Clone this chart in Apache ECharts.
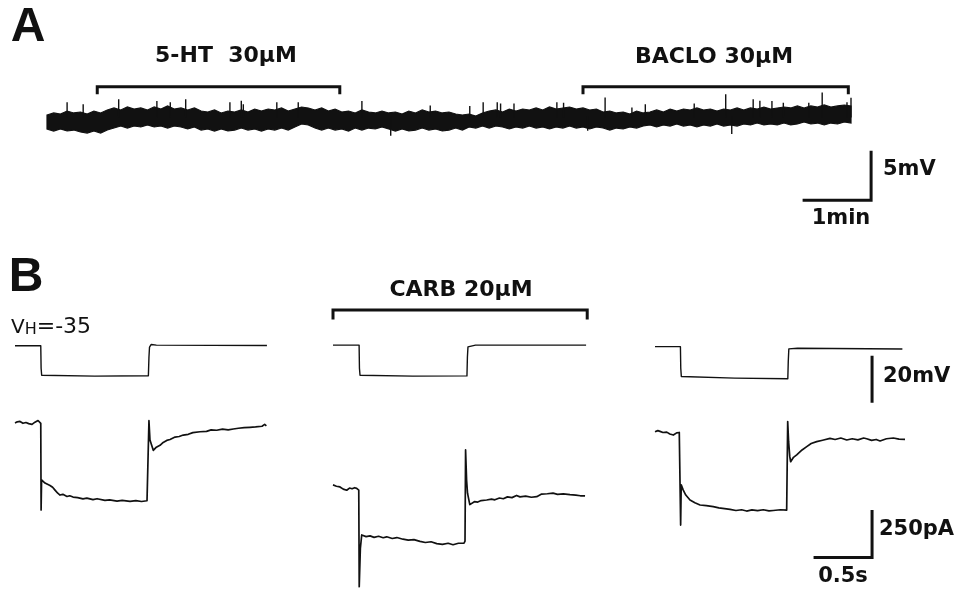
<!DOCTYPE html>
<html>
<head>
<meta charset="utf-8">
<title>5-HT / BACLO / CARB recordings</title>
<script src="https://cdn.jsdelivr.net/npm/echarts@6.0.0/dist/echarts.min.js"></script>
<style>
  html, body { margin: 0; padding: 0; background: #fff; }
  #chart { width: 975px; height: 590px; }
</style>
</head>
<body>
<div id="chart"></div>
<script>
// ---- panel A : slow membrane potential trace, 0.1 min steps (mV relative to rest) ----
const aStep = 0.1;
const aTop = [
  0.19, 0.40, 0.29, 0.60, 0.40, 0.50, 0.29, 0.60, 0.40, 0.71,
  0.92, 0.71, 1.02, 0.81, 0.92, 0.71, 1.02, 0.81, 1.13, 0.81,
  0.92, 0.71, 0.92, 0.60, 0.50, 0.71, 0.40, 0.60, 0.50, 0.71,
  0.50, 0.81, 0.60, 0.81, 0.71, 0.92, 0.60, 0.81, 1.02, 0.92,
  0.71, 0.92, 0.60, 0.81, 0.50, 0.60, 0.40, 0.71, 0.50, 0.40,
  0.60, 0.40, 0.50, 0.29, 0.60, 0.40, 0.71, 0.50, 0.60, 0.40,
  0.50, 0.29, 0.19, 0.29, 0.08, 0.40, 0.60, 0.71, 0.50, 0.81,
  0.60, 0.81, 0.71, 0.92, 0.71, 1.02, 0.81, 0.92, 1.02, 0.81,
  0.92, 0.71, 0.81, 0.50, 0.60, 0.40, 0.50, 0.29, 0.60, 0.40,
  0.50, 0.71, 0.50, 0.81, 0.60, 0.81, 0.71, 0.92, 0.71, 0.81,
  0.60, 0.81, 0.71, 0.92, 0.71, 0.92, 0.81, 1.02, 0.81, 0.92,
  1.02, 0.92, 1.13, 0.92, 1.13, 1.02, 1.23, 1.02, 1.13, 1.23, 1.13
];
const aBottom = [
  -1.27, -1.48, -1.27, -1.48, -1.38, -1.58, -1.69, -1.48, -1.69, -1.38,
  -1.17, -0.96, -1.17, -0.96, -1.06, -0.85, -1.06, -0.96, -1.17, -0.96,
  -1.06, -1.27, -1.06, -1.38, -1.27, -1.48, -1.27, -1.48, -1.38, -1.17,
  -1.38, -1.27, -1.48, -1.27, -1.38, -1.17, -1.38, -1.06, -0.75, -0.85,
  -1.17, -1.38, -1.17, -1.38, -1.27, -1.48, -1.17, -1.38, -1.17, -1.27,
  -1.06, -1.27, -1.48, -1.27, -1.48, -1.38, -1.17, -1.38, -1.27, -1.48,
  -1.38, -1.17, -1.38, -1.06, -1.17, -0.96, -1.17, -0.96, -1.06, -1.27,
  -1.06, -1.17, -0.96, -1.17, -1.06, -1.27, -1.06, -1.17, -0.96, -1.17,
  -1.06, -1.27, -1.06, -1.17, -1.38, -1.17, -1.27, -1.06, -1.17, -0.96,
  -0.85, -1.06, -0.85, -0.96, -0.75, -0.96, -0.85, -1.06, -0.85, -0.96,
  -0.75, -0.96, -0.85, -0.96, -0.75, -0.85, -0.65, -0.85, -0.75, -0.85,
  -0.65, -0.85, -0.75, -0.54, -0.75, -0.65, -0.85, -0.65, -0.75, -0.54, -0.65
];
// brief excursions sticking out of the noise band [min, mV]
const aSpikes = [
  [0.30, 1.44], [0.54, 1.23], [1.07, 1.75], [1.64, 1.57], [1.84, 1.44], [2.07, 1.75],
  [2.73, 1.44], [2.90, 1.60], [2.93, 1.23], [3.43, 1.44], [3.75, 1.44], [4.70, 1.57],
  [5.72, 1.10], [6.31, 1.05], [6.51, 1.44], [6.72, 1.44], [6.77, 1.30], [6.97, 1.30],
  [7.61, 1.44], [7.71, 1.40], [8.33, 1.93], [8.73, 0.90], [8.93, 1.23], [9.66, 1.30],
  [10.13, 2.27], [10.54, 1.75], [10.64, 1.60], [10.82, 1.57], [10.99, 1.40], [11.37, 1.40],
  [11.57, 2.45], [11.94, 1.44], [12.0, 1.90],
  [5.13, -1.90], [10.22, -1.72], [8.07, -1.38]
];
const aDrugs = [
  { name: '5-HT  30µM', from: 0.75, to: 4.37 },
  { name: 'BACLO 30µM', from: 8.0, to: 11.96 }
];

// ---- panel B : voltage steps (mV) and membrane currents (pA), time in s ----
const vSweep1 = [[0, -34.8], [0.226, -34.8], [0.229, -45], [0.234, -48.2], [0.25, -48.7], [0.7, -48.6], [1.17, -48.4], [1.175, -40], [1.18, -35.4], [1.195, -34.2], [1.24, -34.5], [2.21, -34.7]];
const vSweep2 = [[0, -34.5], [0.229, -34.5], [0.232, -45], [0.237, -48.2], [0.25, -48.6], [0.7, -48.6], [1.175, -48.5], [1.179, -40], [1.184, -35.3], [1.2, -34.4], [1.25, -34.5], [2.22, -34.5]];
const vSweep3 = [[0, -35.2], [0.223, -35.2], [0.226, -45], [0.231, -48.8], [0.245, -49.2], [0.7, -49.5], [1.165, -49.8], [1.169, -42], [1.174, -36.2], [1.19, -35.6], [1.25, -35.9], [2.17, -36.3]];

const iSweep1 = [
  [0, -18], [0.02, -12], [0.044, -10], [0.07, -20], [0.096, -16], [0.12, -22], [0.149, -26], [0.175, -14], [0.202, -5], [0.219, 2], [0.226, -20],
  [0.229, -491], [0.233, -328], [0.263, -345], [0.307, -358], [0.33, -368], [0.351, -383], [0.375, -400], [0.395, -410], [0.42, -406], [0.456, -418],
  [0.48, -414], [0.509, -421], [0.55, -424], [0.596, -431], [0.63, -427], [0.684, -435], [0.72, -430], [0.789, -439], [0.83, -436], [0.895, -443],
  [0.94, -439], [1.009, -444], [1.06, -440], [1.11, -445], [1.158, -441], [1.171, -437],
  [1.175, -6], [1.184, -111], [1.213, -167], [1.24, -150], [1.272, -140], [1.3, -124], [1.331, -113], [1.36, -108], [1.404, -95], [1.44, -92],
  [1.476, -84], [1.52, -80], [1.56, -71], [1.623, -66], [1.68, -64], [1.72, -56], [1.769, -58], [1.82, -52], [1.87, -56], [1.915, -51],
  [1.96, -47], [2.01, -44], [2.061, -42], [2.11, -40], [2.167, -36], [2.19, -26], [2.205, -34]
];
const iSweep2 = [
  [0, -355], [0.03, -362], [0.061, -366], [0.09, -378], [0.12, -384], [0.145, -372], [0.167, -376], [0.19, -370], [0.208, -374], [0.226, -383],
  [0.23, -908], [0.24, -700], [0.252, -627], [0.29, -636], [0.325, -632], [0.36, -640], [0.4, -634], [0.44, -642], [0.471, -637], [0.52, -646],
  [0.56, -641], [0.614, -650], [0.66, -655], [0.71, -652], [0.763, -662], [0.81, -668], [0.86, -664], [0.91, -674], [0.96, -678], [1.01, -672],
  [1.053, -680], [1.1, -672], [1.149, -672], [1.158, -660],
  [1.163, -165], [1.172, -330], [1.18, -400], [1.2, -462], [1.216, -452], [1.24, -446], [1.27, -448], [1.3, -440], [1.348, -437], [1.39, -432],
  [1.42, -436], [1.46, -426], [1.494, -430], [1.53, -420], [1.57, -424], [1.61, -412], [1.64, -420], [1.69, -416], [1.74, -422], [1.787, -419],
  [1.83, -405], [1.88, -403], [1.93, -400], [1.97, -406], [2.02, -404], [2.079, -408], [2.13, -410], [2.17, -414], [2.211, -415]
];
const iSweep3 = [
  [0, -66], [0.025, -60], [0.044, -64], [0.07, -70], [0.103, -68], [0.13, -78], [0.161, -84], [0.19, -72], [0.213, -70], [0.222, -78],
  [0.225, -573], [0.23, -355], [0.248, -383], [0.27, -410], [0.307, -437], [0.35, -452], [0.395, -464], [0.45, -468], [0.511, -473], [0.56, -480],
  [0.61, -484], [0.658, -488], [0.71, -494], [0.76, -490], [0.804, -497], [0.85, -491], [0.9, -495], [0.95, -490], [1.0, -496], [1.038, -494],
  [1.1, -490], [1.155, -492], [1.161, -486],
  [1.164, -11], [1.172, -120], [1.182, -200], [1.19, -229], [1.215, -205], [1.243, -192], [1.29, -165], [1.331, -147], [1.37, -130], [1.418, -120],
  [1.47, -112], [1.535, -102], [1.58, -108], [1.63, -100], [1.682, -111], [1.73, -104], [1.78, -110], [1.83, -100], [1.857, -104], [1.9, -113],
  [1.94, -108], [1.974, -116], [2.03, -104], [2.091, -100], [2.14, -106], [2.193, -107]
];
const bDrug = { name: 'CARB 20µM', from: 0, to: 2.23 };

// ---- layout (pixels per unit, so the scale bars come out right) ----
const PX_PER_MIN = 67;
const PX_PER_MV_A = 9.6;
const PX_PER_S = 114;
const PX_PER_MV_B = 2.2;
const PX_PER_PA = 0.184;

const A_X_MAX = 13, A_Y_MAX = 8, A_H = 192;
const B_TOP = 300, B_H = 290, V_MAX = -14, I_MAX = 650;
const sweepLeft = [15, 333, 655];
const sweepXMax = [2.5, 2.5, 2.8];

const ink = '#111';
const labelFont = 'bold 21px "DejaVu Sans", sans-serif';

const grids = [{ left: 47, top: 40, width: A_X_MAX * PX_PER_MIN, height: A_H }];
const xAxes = [{ type: 'value', gridIndex: 0, min: 0, max: A_X_MAX, show: false }];
const yAxes = [{ type: 'value', gridIndex: 0, max: A_Y_MAX, min: A_Y_MAX - A_H / PX_PER_MV_A, show: false }];

sweepLeft.forEach((left, i) => {
  grids.push({ left: left, top: B_TOP, width: sweepXMax[i] * PX_PER_S, height: B_H });
  xAxes.push({ type: 'value', gridIndex: i + 1, min: 0, max: sweepXMax[i], show: false });
  // voltage axis then current axis for every sweep
  yAxes.push({ type: 'value', gridIndex: i + 1, max: V_MAX, min: V_MAX - B_H / PX_PER_MV_B, show: false });
  yAxes.push({ type: 'value', gridIndex: i + 1, max: I_MAX, min: I_MAX - B_H / PX_PER_PA, show: false });
});
grids.forEach(g => { g.outerBoundsMode = 'none'; g.containLabel = false; });

function segLines(name, xi, yi, segments, width) {
  return {
    name: name,
    type: 'lines',
    coordinateSystem: 'cartesian2d',
    xAxisIndex: xi,
    yAxisIndex: yi,
    polyline: true,
    silent: true,
    lineStyle: { color: ink, width: width, opacity: 1, cap: 'square', join: 'miter' },
    data: segments.map(c => ({ coords: c }))
  };
}

function trace(name, xi, yi, data, width) {
  return {
    name: name,
    type: 'line',
    xAxisIndex: xi,
    yAxisIndex: yi,
    data: data,
    symbol: 'none',
    silent: true,
    lineStyle: { color: ink, width: width, join: 'round' }
  };
}

const series = [];

// noise band of panel A drawn as one filled polygon between the two edges
series.push({
  name: 'band',
  type: 'custom',
  xAxisIndex: 0,
  yAxisIndex: 0,
  silent: true,
  clip: false,
  data: [[0, aTop[0]]],
  renderItem: function (params, api) {
    const top = aTop.map((v, i) => api.coord([i * aStep, v]));
    const bottom = aBottom.map((v, i) => api.coord([i * aStep, v])).reverse();
    return {
      type: 'polygon',
      shape: { points: top.concat(bottom) },
      style: { fill: ink, stroke: ink, lineWidth: 1.2, lineJoin: 'miter' }
    };
  }
});
series.push(segLines('spikes', 0, 0, aSpikes.map(s => [[s[0], 0], [s[0], s[1]]]), 1.4));
series.push(segLines('drugs A', 0, 0, aDrugs.map(d => [[d.from, 2.5], [d.from, 3.14], [d.to, 3.14], [d.to, 2.5]]), 3));
// scale bars A : 1 min / 5 mV
series.push(segLines('scale A', 0, 0, [[[11.3, -8.7], [12.3, -8.7], [12.3, -3.7]]], 3));

[vSweep1, vSweep2, vSweep3].forEach((v, i) => series.push(trace('V' + (i + 1), i + 1, 1 + 2 * i, v, 1.4)));
[iSweep1, iSweep2, iSweep3].forEach((c, i) => series.push(trace('I' + (i + 1), i + 1, 2 + 2 * i, c, 1.7)));

series.push(segLines('drug B', 2, 3, [[[bDrug.from, -22.2], [bDrug.from, -18.6], [bDrug.to, -18.6], [bDrug.to, -22.2]]], 3));
// scale bars B : 20 mV on voltage axis, 250 pA / 0.5 s on current axis
series.push(segLines('scale 20mV', 3, 5, [[[1.904, -40], [1.904, -60]]], 3));
series.push(segLines('scale 250pA', 3, 6, [[[1.404, -750], [1.904, -750], [1.904, -500]]], 3));

function label(text, x, y, align, font) {
  return {
    type: 'text',
    x: x,
    y: y,
    silent: true,
    style: { text: text, fill: ink, font: font || labelFont, align: align || 'left', verticalAlign: 'middle' }
  };
}

const option = {
  backgroundColor: '#fff',
  animation: false,
  grid: grids,
  xAxis: xAxes,
  yAxis: yAxes,
  series: series,
  graphic: [
    label('A', 28, 28, 'center', 'bold 48px "Liberation Sans", sans-serif'),
    label('B', 26, 278, 'center', 'bold 48px "Liberation Sans", sans-serif'),
    label(aDrugs[0].name, 226, 56, 'center', 'bold 22px "DejaVu Sans", sans-serif'),
    label(aDrugs[1].name, 714, 57, 'center', 'bold 22px "DejaVu Sans", sans-serif'),
    label(bDrug.name, 461, 290, 'center', 'bold 22px "DejaVu Sans", sans-serif'),
    label('5mV', 883, 170),
    label('1min', 841, 219, 'center'),
    label('20mV', 883, 377),
    label('250pA', 879, 530),
    label('0.5s', 843, 577, 'center'),
    {
      type: 'text',
      x: 11,
      y: 327,
      silent: true,
      style: {
        text: '{v|V}{h|H}{n|=-35}',
        verticalAlign: 'middle',
        rich: {
          v: { font: '20px "DejaVu Sans", sans-serif', fill: ink, verticalAlign: 'bottom' },
          h: { font: '16px "DejaVu Sans", sans-serif', fill: ink, verticalAlign: 'bottom' },
          n: { font: '22px "DejaVu Sans", sans-serif', fill: ink, verticalAlign: 'bottom' }
        }
      }
    }
  ]
};

const chart = echarts.init(document.getElementById('chart'), null, { renderer: 'canvas' });
chart.setOption(option);
</script>
</body>
</html>
